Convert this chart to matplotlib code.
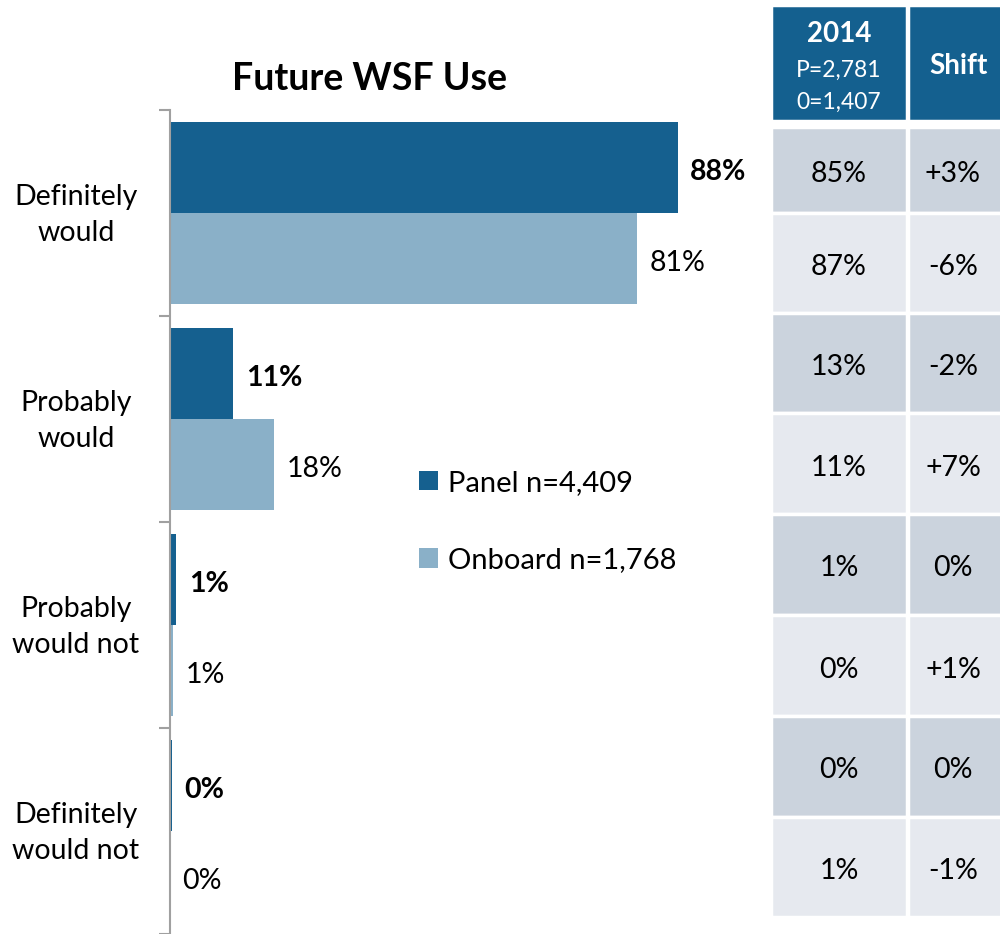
import matplotlib.pyplot as plt
from matplotlib.patches import Rectangle
from matplotlib.transforms import blended_transform_factory

plt.rcParams['font.family'] = ['Lato', 'DejaVu Sans']

# Datos
categorias = ['Definitely\nwould', 'Probably\nwould', 'Probably\nwould not', 'Definitely\nwould not']
panel = [88, 11, 1.1, 0.3]
onboard = [81, 18, 0.5, 0.0]
panel_txt = ['88%', '11%', '1%', '0%']
onboard_txt = ['81%', '18%', '1%', '0%']

# Tabla 2014 / Shift
col_2014 = ['85%', '87%', '13%', '11%', '1%', '0%', '0%', '1%']
col_shift = ['+3%', '-6%', '-2%', '+7%', '0%', '+1%', '0%', '-1%']

c_panel = '#15608F'
c_onboard = '#8AB0C8'
c_head = '#14608F'
c_dark = '#CBD3DD'
c_light = '#E6E9EF'

W, H = 1000, 934
fig = plt.figure(figsize=(10, 9.34), dpi=100)

# ejes de barras
ax = fig.add_axes([170 / W, 0, 577 / W, 1 - 110 / H])
y = list(range(len(categorias)))
h = 0.442
ax.barh([i - h / 2 for i in y], panel, height=h, color=c_panel, label='Panel n=4,409')
ax.barh([i + h / 2 for i in y], onboard, height=h, color=c_onboard, label='Onboard n=1,768')
ax.set_xlim(0, 100)
ax.set_ylim(3.5, -0.5)

for i in y:
    ax.annotate(panel_txt[i], (panel[i], i - h / 2), xytext=(9, -3), textcoords='offset points',
                va='center', ha='left', fontsize=20.5, fontweight='bold')
    ax.annotate(onboard_txt[i], (onboard[i], i + h / 2), xytext=(9, -3), textcoords='offset points',
                va='center', ha='left', fontsize=20.5)

trans = blended_transform_factory(fig.transFigure, ax.transData)
for i, c in enumerate(categorias):
    ax.text(0.076, i + 0.01, c, transform=trans, ha='center', va='center', fontsize=20.5,
            linespacing=1.5)

for s in ['top', 'right', 'bottom']:
    ax.spines[s].set_visible(False)
ax.spines['left'].set_color('#A0A0A0')
ax.spines['left'].set_linewidth(1.5)
ax.set_xticks([])
ax.set_yticks([-0.5, 0.5, 1.5, 2.5, 3.5])
ax.set_yticklabels([])
ax.tick_params(axis='y', length=8, width=1.5, color='#A0A0A0', direction='out')

ax.legend(frameon=False, loc='upper left', bbox_to_anchor=(419 / W, 1 - 470 / H),
          bbox_transform=fig.transFigure, fontsize=21, handlelength=0.65, handleheight=0.65,
          labelspacing=1.75, handletextpad=0.35, borderpad=0, borderaxespad=0)

fig.text(370 / W, 1 - 79 / H, 'Future WSF Use', ha='center', va='center',
         fontsize=27, fontweight='bold')

# tabla a la derecha
tx = fig.add_axes([0, 0, 1, 1])
tx.set_xlim(0, W)
tx.set_ylim(H, 0)
tx.axis('off')
col_x = [(771, 907), (908, 1002)]
tx.add_patch(Rectangle((col_x[0][0], 5), col_x[0][1] - col_x[0][0], 116,
                       facecolor=c_head, edgecolor='white', lw=2.5))
tx.add_patch(Rectangle((col_x[1][0], 5), col_x[1][1] - col_x[1][0], 116,
                       facecolor=c_head, edgecolor='white', lw=2.5))
tx.text(839, 34, '2014', ha='center', va='center', color='white', fontsize=20, fontweight='bold')
tx.text(839, 70, 'P=2,781', ha='center', va='center', color='white', fontsize=16.5)
tx.text(839, 102, '0=1,407', ha='center', va='center', color='white', fontsize=16.5)
tx.text(958, 66, 'Shift', ha='center', va='center', color='white', fontsize=20, fontweight='bold')

bordes = [127, 213, 313, 413, 514, 615, 716, 817, 917]
for r in range(len(col_2014)):
    y0, y1 = bordes[r], bordes[r + 1]
    fc = c_dark if r % 2 == 0 else c_light
    for (x0, x1), txt in zip(col_x, [col_2014[r], col_shift[r]]):
        tx.add_patch(Rectangle((x0, y0), x1 - x0, y1 - y0, facecolor=fc, edgecolor='white', lw=2.5))
        tx.text((x0 + x1) / 2 - (2 if x0 > 900 else 0), (y0 + y1) / 2 + 4, txt,
                ha='center', va='center', fontsize=20.5)

fig.savefig('out.png', dpi=100)
